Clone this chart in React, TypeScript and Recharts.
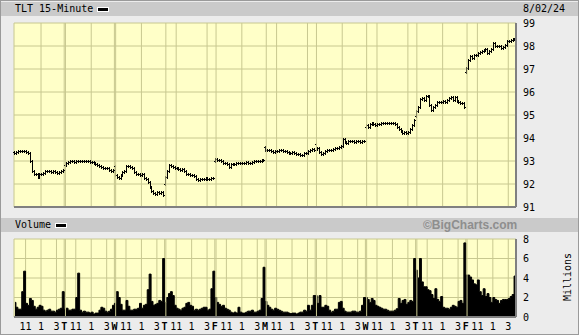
import React from "react";
import { ComposedChart, Bar, Area, XAxis, YAxis, CartesianGrid, ReferenceLine } from "recharts";

const dayLetters = ["M", "T", "W", "T", "F", "M", "T", "W", "T", "F"];
const hourLabels = ["11", "1", "3"];
const hourSlots = [6, 14, 22]; // 15-min bar index of 11:00, 13:00, 15:00
const barsPerDay = 26;

const priceTicks = [91, 92, 93, 94, 95, 96, 97, 98, 99];
const volumeTicks = [0, 2, 4, 6, 8];

const dayOpens = [93.38, 92.82, 92.8, 92.0, 92.98, 93.62, 93.72, 94.5, 94.95, 96.87];

const closesJul22 = [93.35, 93.4, 93.42, 93.45, 93.42, 93.45, 93.4, 93.35, 93.0, 92.55, 92.45, 92.42, 92.3, 92.45, 92.45, 92.5, 92.58, 92.55, 92.55, 92.52, 92.55, 92.52, 92.5, 92.52, 92.55, 92.62];
const closesJul23 = [92.84, 92.91, 92.96, 93.0, 92.98, 92.97, 93.0, 93.02, 93.0, 93.02, 93.0, 92.98, 93.0, 92.97, 92.95, 92.92, 92.88, 92.82, 92.78, 92.75, 92.7, 92.68, 92.68, 92.62, 92.55, 92.6];
const closesJul24 = [92.4, 92.3, 92.28, 92.4, 92.54, 92.55, 92.78, 92.78, 92.72, 92.68, 92.54, 92.45, 92.42, 92.4, 92.42, 92.27, 92.2, 92.08, 91.85, 91.7, 91.6, 91.55, 91.65, 91.6, 91.65, 91.52];
const closesJul25 = [92.3, 92.55, 92.82, 92.78, 92.75, 92.68, 92.7, 92.65, 92.62, 92.66, 92.55, 92.45, 92.42, 92.38, 92.4, 92.35, 92.22, 92.18, 92.2, 92.22, 92.2, 92.27, 92.22, 92.2, 92.24, 92.28];
const closesJul26 = [93.08, 93.03, 93.05, 93.0, 92.92, 92.9, 92.85, 92.76, 92.85, 92.88, 92.86, 92.9, 92.92, 92.9, 92.93, 92.92, 92.95, 92.92, 92.9, 92.95, 93.0, 92.98, 93.02, 93.0, 93.03, 93.05];
const closesJul29 = [93.5, 93.5, 93.48, 93.42, 93.4, 93.43, 93.45, 93.5, 93.48, 93.43, 93.42, 93.38, 93.36, 93.35, 93.39, 93.33, 93.3, 93.31, 93.27, 93.25, 93.33, 93.36, 93.43, 93.5, 93.53, 93.48];
const closesJul30 = [93.52, 93.56, 93.4, 93.3, 93.35, 93.42, 93.48, 93.5, 93.47, 93.52, 93.55, 93.55, 93.62, 93.65, 93.95, 93.82, 93.8, 93.86, 93.85, 93.88, 93.82, 93.85, 93.86, 93.83, 93.85, 93.86];
const closesJul31 = [94.55, 94.5, 94.62, 94.66, 94.6, 94.57, 94.62, 94.63, 94.66, 94.65, 94.66, 94.64, 94.66, 94.65, 94.64, 94.62, 94.5, 94.38, 94.3, 94.22, 94.25, 94.2, 94.28, 94.4, 94.55, 94.78];
const closesAug01 = [95.17, 95.36, 95.71, 95.74, 95.64, 95.83, 95.83, 95.45, 95.21, 95.36, 95.43, 95.57, 95.55, 95.57, 95.6, 95.57, 95.64, 95.75, 95.79, 95.64, 95.79, 95.6, 95.57, 95.54, 95.52, 95.36];
const closesAug02 = [97.05, 97.4, 97.55, 97.47, 97.6, 97.62, 97.68, 97.75, 97.78, 97.82, 97.85, 97.68, 97.78, 97.87, 98.15, 98.02, 98.0, 98.02, 97.9, 97.97, 98.04, 98.22, 98.2, 98.26, 98.3, 98.32];

const volJul22 = [1.5, 1.0, 0.8, 0.8, 2.6, 4.7, 1.4, 1.2, 1.9, 1.7, 1.1, 0.8, 1.0, 1.2, 1.1, 0.7, 0.6, 0.7, 0.8, 0.6, 0.6, 0.5, 0.7, 0.8, 0.9, 2.6];
const volJul23 = [0.8, 0.9, 0.7, 0.7, 0.8, 0.8, 2.0, 4.5, 0.7, 0.5, 0.6, 0.5, 0.5, 0.4, 0.5, 0.3, 0.4, 0.4, 0.7, 1.0, 0.9, 0.6, 0.5, 0.6, 0.8, 1.2];
const volJul24 = [1.4, 2.6, 2.0, 1.3, 0.7, 0.7, 1.7, 1.1, 0.7, 0.7, 0.8, 0.8, 0.9, 1.4, 0.9, 1.2, 1.3, 2.8, 4.4, 1.6, 1.2, 1.3, 1.4, 1.7, 1.6, 6.0];
const volJul25 = [1.5, 2.0, 2.4, 2.6, 2.2, 1.2, 0.9, 0.8, 0.7, 0.9, 1.0, 1.4, 1.5, 1.2, 1.1, 0.7, 0.8, 0.7, 0.8, 0.9, 1.0, 1.0, 0.7, 0.8, 2.9, 4.7];
const volJul26 = [2.0, 1.5, 1.3, 1.1, 1.2, 0.9, 0.8, 0.7, 0.5, 0.4, 0.5, 0.4, 1.0, 0.5, 0.4, 0.4, 0.5, 0.6, 0.6, 0.7, 0.5, 0.5, 0.6, 0.7, 1.9, 5.1];
const volJul29 = [1.6, 1.2, 1.0, 0.8, 0.7, 0.9, 0.8, 0.7, 0.6, 0.5, 0.5, 0.5, 0.4, 0.35, 0.4, 0.4, 0.3, 0.4, 0.5, 0.5, 0.7, 0.6, 1.2, 0.7, 1.2, 2.2];
const volJul30 = [2.2, 1.4, 2.2, 1.0, 1.0, 1.2, 1.1, 0.7, 0.5, 0.6, 0.8, 0.8, 1.5, 1.6, 0.9, 0.6, 0.5, 0.5, 0.5, 0.6, 0.6, 0.5, 0.5, 0.6, 1.2, 2.0];
const volJul31 = [2.0, 1.8, 1.5, 1.9, 1.7, 1.2, 1.1, 1.0, 0.9, 0.8, 0.8, 0.7, 0.6, 0.6, 0.6, 0.7, 0.85, 1.9, 1.4, 1.7, 1.8, 1.3, 1.5, 1.7, 1.6, 6.0];
const volAug01 = [4.8, 4.0, 6.0, 3.6, 3.1, 3.1, 2.8, 2.7, 2.3, 1.9, 2.9, 1.8, 1.6, 2.1, 1.0, 0.9, 0.9, 0.8, 1.0, 1.2, 1.1, 1.0, 1.6, 1.7, 1.4, 7.6];
const volAug02 = [4.3, 4.3, 4.1, 3.8, 3.4, 3.3, 3.8, 2.6, 2.2, 2.9, 2.1, 2.4, 2.0, 1.5, 2.0, 1.8, 1.7, 1.4, 1.7, 1.8, 1.8, 1.8, 1.9, 2.1, 2.3, 4.2];

const dayCloses = [closesJul22, closesJul23, closesJul24, closesJul25, closesJul26, closesJul29, closesJul30, closesJul31, closesAug01, closesAug02];
const dayVolumes = [volJul22, volJul23, volJul24, volJul25, volJul26, volJul29, volJul30, volJul31, volAug01, volAug02];

const xDomain: [number, number] = [0, dayLetters.length * barsPerDay];

const priceRows = dayCloses.flatMap((closes, d) =>
  closes.map((close, k) => {
    const open = k === 0 ? dayOpens[d] : closes[k - 1];
    return {
      x: d * barsPerDay + k + 0.5,
      open,
      close,
      range: [Math.min(open, close), Math.max(open, close)],
    };
  })
);

const volumeRows = dayVolumes.flatMap((vols, d) =>
  vols.map((v, k) => ({ x: d * barsPerDay + k + 0.5, v }))
);

// grid / label ticks: day boundaries + 11, 1, 3 o'clock
const xTickInfo: { value: number; label: string; bold: boolean }[] = [];
dayLetters.forEach((letter, d) => {
  if (d > 0) xTickInfo.push({ value: d * barsPerDay, label: letter, bold: true });
  hourSlots.forEach((s, i) =>
    xTickInfo.push({ value: d * barsPerDay + s, label: hourLabels[i], bold: false })
  );
});
const xTicks = xTickInfo.map((t) => t.value);
const dayBreaks = dayLetters.slice(1).map((_, i) => (i + 1) * barsPerDay + 0.65);

const GRID = "#c8c890";
const PLOT_BG = "#ffffc8";
const BORDER = "#808080";
const MONO = "'DejaVu Sans Mono', monospace";

function OhlcBar(props: any) {
  const { x, y, width, height, payload } = props;
  if (x == null || y == null || !payload) return null;
  const px = Math.floor(x + width / 2);
  const cx = px + 0.5;
  const top = Math.round(Math.min(y, y + height));
  const bottom = Math.round(Math.max(y, y + height));
  const up = payload.close >= payload.open;
  const yOpen = (up ? bottom : top) + 0.5;
  const yClose = (up ? top : bottom) + 0.5;
  return (
    <path
      d={`M${cx},${top - 1}V${bottom + 2}M${px - 1},${yOpen}H${px + 1}M${px},${yClose}H${px + 2}`}
      stroke="#000"
      strokeWidth={1}
      fill="none"
    />
  );
}

function DayTick(props: any) {
  const { x, y, payload } = props;
  const info = xTickInfo.find((t) => t.value === payload.value);
  if (!info) return null;
  return (
    <text
      x={x}
      y={y}
      dy="0.71em"
      textAnchor="middle"
      fill="#000"
      fontSize={10}
      fontFamily={MONO}
      fontWeight={info.bold ? "bold" : "normal"}
    >
      {info.label}
    </text>
  );
}

const yTickStyle = { fontSize: 10, fill: "#000", fontFamily: MONO };

function Swatch({ left, top }: { left: number; top: number }) {
  return (
    <div
      style={{
        position: "absolute",
        left,
        top,
        width: 10,
        height: 3,
        background: "#000",
        border: "1px solid #fff",
      }}
    />
  );
}

export default function App() {
  const text = (extra: React.CSSProperties): React.CSSProperties => ({
    position: "absolute",
    fontFamily: MONO,
    fontSize: 10,
    lineHeight: "14px",
    color: "#000",
    whiteSpace: "nowrap",
    ...extra,
  });

  return (
    <div
      style={{
        position: "absolute",
        left: 0,
        top: 0,
        width: 579,
        height: 335,
        background: "#ececec",
        overflow: "hidden",
      }}
    >
      <div style={{ position: "absolute", left: 1, top: 2, width: 577, height: 14, background: "#cacaca" }} />
      <div style={text({ left: 15, top: 2 })}>TLT 15-Minute</div>
      <Swatch left={97} top={7} />
      <div style={text({ left: 523, top: 2 })}>8/02/24</div>

      <div style={{ position: "absolute", left: 0, top: 0 }}>
        <ComposedChart
          width={579}
          height={215}
          data={priceRows}
          margin={{ top: 23, right: 13, left: 14, bottom: 8 }}
        >
          <CartesianGrid stroke={GRID} fill={PLOT_BG} fillOpacity={1} />
          <XAxis dataKey="x" type="number" domain={xDomain} ticks={xTicks} hide />
          <YAxis
            orientation="right"
            domain={[91, 99]}
            ticks={priceTicks}
            width={50}
            tickLine={false}
            axisLine={false}
            tickSize={0}
            tickMargin={7}
            tick={yTickStyle}
            interval={0}
          />
          {dayBreaks.map((b) => (
            <ReferenceLine key={b} x={b} stroke={GRID} />
          ))}
          <Bar dataKey="range" barSize={2} shape={<OhlcBar />} isAnimationActive={false} />
          <ReferenceLine y={91} stroke={BORDER} strokeWidth={2} />
          <ReferenceLine x={xDomain[1]} stroke={BORDER} strokeWidth={2} />
        </ComposedChart>
      </div>

      <div style={{ position: "absolute", left: 1, top: 218, width: 577, height: 14, background: "#cacaca" }} />
      <div style={text({ left: 15, top: 218 })}>Volume</div>
      <Swatch left={55} top={223} />
      <div
        style={{
          position: "absolute",
          left: 423,
          top: 218,
          lineHeight: "14px",
          fontFamily: "'Liberation Sans', Arial, sans-serif",
          fontWeight: "bold",
          fontSize: 12,
          color: "#8e8e8e",
        }}
      >
        ©BigCharts.com
      </div>

      <div style={{ position: "absolute", left: 0, top: 230 }}>
        <ComposedChart
          width={579}
          height={105}
          data={volumeRows}
          margin={{ top: 9, right: 13, left: 14, bottom: 0 }}
        >
          <CartesianGrid stroke={GRID} fill={PLOT_BG} fillOpacity={1} />
          <XAxis
            dataKey="x"
            type="number"
            domain={xDomain}
            ticks={xTicks}
            interval={0}
            height={18}
            tickLine={false}
            axisLine={false}
            tickSize={0}
            tickMargin={6}
            tick={<DayTick />}
          />
          <YAxis
            orientation="right"
            domain={[0, 8]}
            ticks={volumeTicks}
            width={50}
            tickLine={false}
            axisLine={false}
            tickSize={0}
            tickMargin={7}
            tick={yTickStyle}
            interval={0}
          />
          {dayBreaks.map((b) => (
            <ReferenceLine key={b} x={b} stroke={GRID} />
          ))}
          <Area
            dataKey="v"
            type="step"
            stroke="#000"
            strokeWidth={1}
            fill="#000"
            fillOpacity={1}
            dot={false}
            activeDot={false}
            isAnimationActive={false}
          />
          <ReferenceLine y={0} stroke={BORDER} strokeWidth={2} />
          <ReferenceLine x={xDomain[1]} stroke={BORDER} strokeWidth={2} />
        </ComposedChart>
      </div>

      <div
        style={text({
          left: 538,
          top: 271,
          width: 60,
          height: 12,
          lineHeight: "12px",
          textAlign: "center",
          transform: "rotate(-90deg)",
        })}
      >
        Millions
      </div>
      <div
        style={{
          position: "absolute",
          left: 0,
          top: 0,
          width: 579,
          height: 335,
          boxSizing: "border-box",
          border: "1px solid #9a9a9a",
          pointerEvents: "none",
        }}
      />
    </div>
  );
}
